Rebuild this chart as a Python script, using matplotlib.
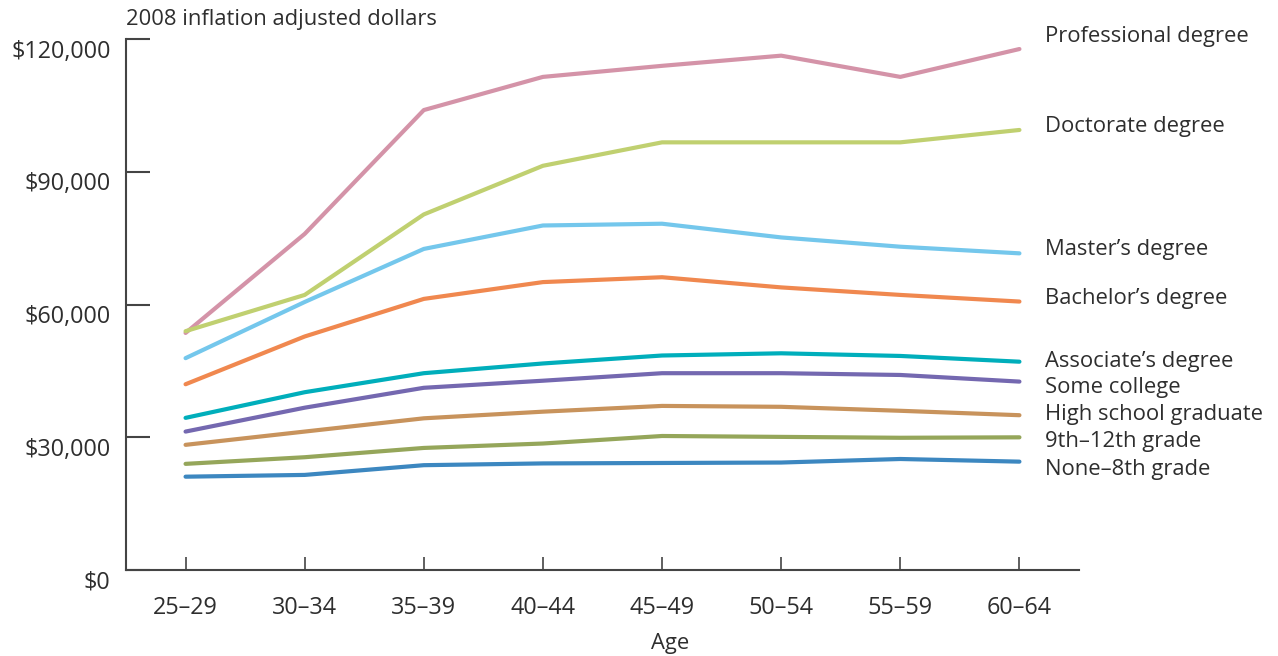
import matplotlib
matplotlib.use("Agg")
import matplotlib.pyplot as plt
from matplotlib.transforms import ScaledTranslation

# data (thousands of 2008 dollars)
ages = ["25–29", "30–34", "35–39", "40–44", "45–49", "50–54", "55–59", "60–64"]

professional = [53.6, 76.0, 104.0, 111.5, 114.0, 116.3, 111.5, 117.8]
doctorate = [54.0, 62.2, 80.4, 91.4, 96.7, 96.7, 96.7, 99.5]
masters = [47.9, 60.6, 72.6, 77.9, 78.3, 75.2, 73.1, 71.6]
bachelors = [42.0, 52.8, 61.3, 65.1, 66.2, 63.9, 62.2, 60.7]
associates = [34.4, 40.2, 44.5, 46.7, 48.5, 49.0, 48.4, 47.1]
some_college = [31.3, 36.7, 41.2, 42.8, 44.5, 44.5, 44.1, 42.6]
high_school = [28.3, 31.3, 34.3, 35.8, 37.1, 36.9, 36.0, 35.0]
grade_9_12 = [24.0, 25.5, 27.6, 28.6, 30.3, 30.1, 29.9, 30.0]
none_8 = [21.1, 21.5, 23.7, 24.1, 24.2, 24.3, 25.1, 24.5]

names = ["Professional degree", "Doctorate degree", "Master’s degree",
         "Bachelor’s degree", "Associate’s degree", "Some college",
         "High school graduate", "9th–12th grade", "None–8th grade"]
series = [professional, doctorate, masters, bachelors, associates,
          some_college, high_school, grade_9_12, none_8]
colors = ["#d493a8", "#c0d070", "#74c7ec", "#f0884f", "#00aebb",
          "#7468b0", "#c8935c", "#95a65a", "#3c87c0"]
# label baselines (thousands), set by hand like the original
label_y = [119.5, 99.1, 71.2, 60.1, 45.8, 40.1, 33.9, 27.7, 21.5]

yticks = [0, 30000, 60000, 90000, 120000]
ytick_labels = ["$0", "$30,000", "$60,000", "$90,000", "$120,000"]

plt.rcParams['font.family'] = ['Open Sans', 'DejaVu Sans']
txt = "#2e2e2e"
fs = 15.8
tfs = 16.8

fig = plt.figure(figsize=(12.78, 6.56), dpi=100)
ax = fig.add_axes([126 / 1278, 1 - 570 / 656, (1079 - 126) / 1278, (570 - 39.3) / 656])

x = list(range(len(ages)))
for vals, c, name, ly in zip(series, colors, names, label_y):
    ax.plot(x, [v * 1000 for v in vals], color=c, lw=3, solid_capstyle='round',
            solid_joinstyle='round', clip_on=False)
    ax.text(7.218, ly * 1000, name, fontsize=fs, color=txt, va='baseline', ha='left')

ax.set_xlim(-0.5, 7.5)
ax.set_ylim(0, 120000)
ax.set_xticks(x)
ax.set_xticklabels(ages, fontsize=tfs, color=txt)
ax.set_yticks(yticks)
ax.set_yticklabels(ytick_labels, fontsize=tfs, color=txt)

for s in ["top", "right"]:
    ax.spines[s].set_visible(False)
for s in ["left", "bottom"]:
    ax.spines[s].set_color("#444444")
    ax.spines[s].set_linewidth(1.5)

ax.tick_params(axis='y', direction='in', length=17, width=1.5, color="#444444", pad=11)
ax.tick_params(axis='x', direction='in', length=9.5, width=1.2, color="#444444", pad=18.5)

# y labels sit a bit below their ticks in the original
off = ScaledTranslation(0, -0.095, fig.dpi_scale_trans)
for lab in ax.get_yticklabels():
    lab.set_transform(lab.get_transform() + off)

ax.text(0.0, 1.038, "2008 inflation adjusted dollars", transform=ax.transAxes,
        fontsize=fs, color=txt, ha='left', va='center')
ax.text((670 - 126) / (1079 - 126), (570 - 643) / (570 - 39.3), "Age",
        transform=ax.transAxes, fontsize=fs, color=txt, ha='center', va='center')

fig.savefig("out.png", dpi=100, facecolor="white")
